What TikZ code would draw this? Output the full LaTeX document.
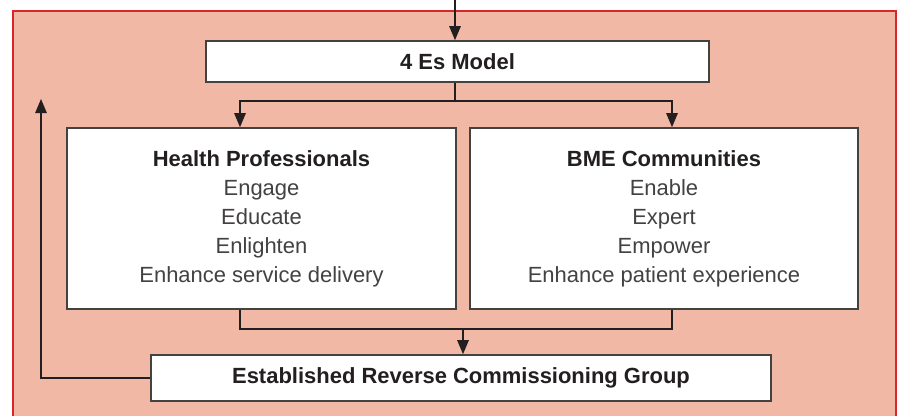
\documentclass[tikz,border=0pt]{standalone}
\usepackage{fontspec}
\setmainfont{Liberation Sans}
\usetikzlibrary{arrows.meta}
\definecolor{salmon}{HTML}{F0B8A5}
\definecolor{framered}{HTML}{D7262E}
\definecolor{ink}{HTML}{231F20}

\begin{document}
\begin{tikzpicture}[
    >={Triangle[width=6.5pt,length=8pt]},
    box/.style={draw=ink!85, line width=0.9pt, fill=white, inner sep=0pt, align=center,
        text=ink!85, font=\fontsize{12.5}{16.5}\selectfont},
    line/.style={draw=ink, line width=0.9pt}
  ]
    \useasboundingbox (0,0) rectangle (17.96,8.32);

    % background panel with red frame
    \fill[salmon] (0.26,0) rectangle (17.92,8.10);
    \draw[framered, line width=1.2pt] (0.26,-0.1) |- (17.92,8.10) -- (17.92,-0.1);

    % boxes
    \node[box, minimum width=10.06cm, minimum height=0.82cm] (model) at (9.15,7.09)
        {\color{ink}\textbf{4 Es Model}};
    \node[box, minimum width=7.78cm, minimum height=3.62cm] (hp) at (5.23,3.95)
        {\color{ink}\textbf{Health Professionals}\\Engage\\Educate\\Enlighten\\Enhance service delivery};
    \node[box, minimum width=7.76cm, minimum height=3.62cm] (bme) at (13.28,3.95)
        {\color{ink}\textbf{BME Communities}\\Enable\\Expert\\Empower\\Enhance patient experience};
    \node[box, minimum width=12.4cm, minimum height=0.92cm] (erc) at (9.22,0.76)
        {\color{ink}\textbf{Established Reverse Commissioning Group}};

    % bus points
    \coordinate (in) at (9.10,8.32);
    \coordinate (s1) at (4.80,6.30);
    \coordinate (s2) at (13.44,6.30);
    \coordinate (m1) at (4.80,1.74);
    \coordinate (m2) at (13.44,1.74);
    \coordinate (mid) at (9.26,1.74);
    \coordinate (fb) at (0.82,6.34);

    % connectors
    \draw[line, ->] (in) -- (in |- model.north);
    \draw[line] (in |- model.south) -- (in |- s1);
    \draw[line, <->] (s1 |- hp.north) -- (s1) -- (s2) -- (s2 |- bme.north);
    \draw[line] (hp.south -| m1) -- (m1) -- (m2) -- (bme.south -| m2);
    \draw[line, ->] (mid) -- (mid |- erc.north);
    \draw[line, ->] (erc) -| (fb);
\end{tikzpicture}
\end{document}
